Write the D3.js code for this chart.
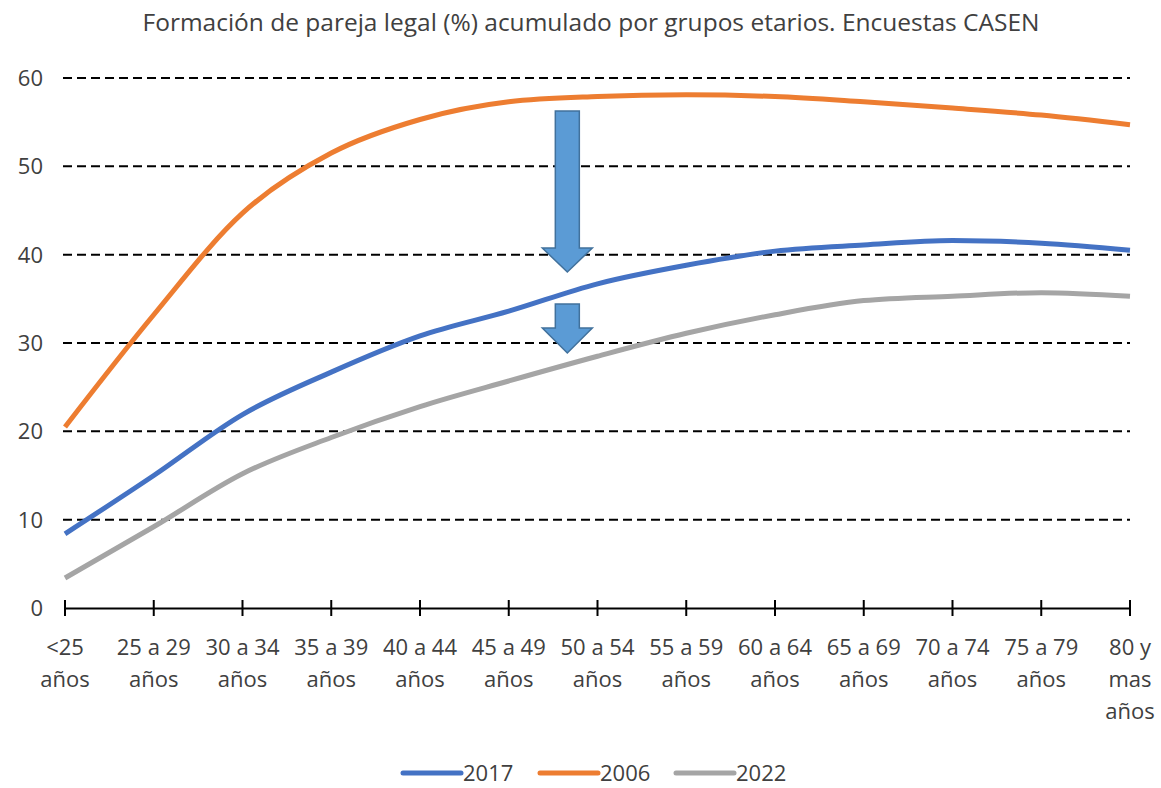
<!DOCTYPE html>
<html><head><meta charset="utf-8">
<script src="https://cdn.jsdelivr.net/npm/d3@7"></script>
<style>body{margin:0;background:#fff;} text{font-family:"Open Sans",sans-serif;fill:#404040;}</style>
</head><body>
<svg id="c" width="1161" height="788"></svg>
<script>
const categories = ["<25 años","25 a 29 años","30 a 34 años","35 a 39 años","40 a 44 años","45 a 49 años","50 a 54 años","55 a 59 años","60 a 64 años","65 a 69 años","70 a 74 años","75 a 79 años","80 y mas años"];
const labelLines = [["<25","años"],["25 a 29","años"],["30 a 34","años"],["35 a 39","años"],["40 a 44","años"],["45 a 49","años"],["50 a 54","años"],["55 a 59","años"],["60 a 64","años"],["65 a 69","años"],["70 a 74","años"],["75 a 79","años"],["80 y","mas","años"]];
const s2017 = [8.4,15.0,21.9,26.7,30.8,33.6,36.7,38.8,40.4,41.1,41.6,41.3,40.5];
const s2006 = [20.5,33.2,44.7,51.5,55.3,57.3,57.9,58.1,57.9,57.3,56.6,55.8,54.7];
const s2022 = [3.4,9.2,15.2,19.3,22.8,25.7,28.5,31.1,33.2,34.8,35.3,35.7,35.3];
const yTicks = [0,10,20,30,40,50,60];
const title = "Formación de pareja legal (%) acumulado por grupos etarios. Encuestas CASEN";
const series = [
  {name:"2017", values:s2017, color:"#4472c4"},
  {name:"2006", values:s2006, color:"#ed7d31"},
  {name:"2022", values:s2022, color:"#a5a5a5"}
];

const svg = d3.select("#c");
const x = d3.scalePoint().domain(categories).range([65,1130]);
const y = d3.scaleLinear().domain([0,60]).range([608,78]);

svg.append("text").attr("x",591).attr("y",31).attr("text-anchor","middle")
  .style("font-size","24px").attr("textLength",897).attr("lengthAdjust","spacingAndGlyphs").text(title);

// gridlines
svg.append("g").selectAll("line").data(yTicks.filter(d=>d>0)).join("line")
  .attr("x1",63).attr("x2",1130).attr("y1",d=>y(d)).attr("y2",d=>y(d))
  .attr("stroke","#000").attr("stroke-width",2).attr("stroke-dasharray","9,5");

// y labels
svg.append("g").selectAll("text").data(yTicks).join("text")
  .attr("x",43).attr("y",d=>y(d)+8).attr("text-anchor","end")
  .style("font-size","22px").text(d=>d);

// x axis
const xa = svg.append("g").attr("transform","translate(0,608)")
  .call(d3.axisBottom(x).tickSize(0).tickFormat(""));
xa.select(".domain").attr("stroke","#000").attr("stroke-width",2);
svg.append("g").selectAll("line").data(categories).join("line")
  .attr("x1",d=>x(d)).attr("x2",d=>x(d)).attr("y1",600).attr("y2",616)
  .attr("stroke","#000").attr("stroke-width",2);

const lbl = svg.append("g").selectAll("text").data(categories).join("text")
  .attr("text-anchor","middle").style("font-size","22px")
  .attr("transform",d=>`translate(${x(d)},0)`);
lbl.each(function(d,i){
  const t=d3.select(this);
  labelLines[i].forEach((l,j)=>t.append("tspan").attr("x",0).attr("y",655+j*32).text(l));
});

// lines
const line = d3.line().x((d,i)=>x(categories[i])).y(d=>y(d)).curve(d3.curveMonotoneX);
svg.append("g").selectAll("path").data(series).join("path")
  .attr("d",d=>line(d.values)).attr("fill","none")
  .attr("stroke",d=>d.color).attr("stroke-width",5).attr("stroke-linejoin","round");

// arrows
function arrow(xc,top,shaftBottom,tip){
  const sw=12, hw=25;
  return `M${xc-sw},${top}L${xc+sw},${top}L${xc+sw},${shaftBottom}L${xc+hw},${shaftBottom}L${xc},${tip}L${xc-hw},${shaftBottom}L${xc-sw},${shaftBottom}Z`;
}
const ax = x(categories[5]) + (x(categories[6])-x(categories[5]))*0.66;
svg.append("path").attr("d",arrow(ax,111,248,272)).attr("fill","#5b9bd5").attr("stroke","#41719c").attr("stroke-width",1.5);
svg.append("path").attr("d",arrow(ax,304,328,353)).attr("fill","#5b9bd5").attr("stroke","#41719c").attr("stroke-width",1.5);

// legend
const leg = svg.append("g");
const lx=[403,540,676];
series.forEach((s,i)=>{
  leg.append("line").attr("x1",lx[i]).attr("x2",lx[i]+58).attr("y1",773).attr("y2",773)
    .attr("stroke",s.color).attr("stroke-width",5).attr("stroke-linecap","round");
  leg.append("text").attr("x",lx[i]+60).attr("y",781).style("font-size","22px").text(s.name);
});
</script>
</body></html>
